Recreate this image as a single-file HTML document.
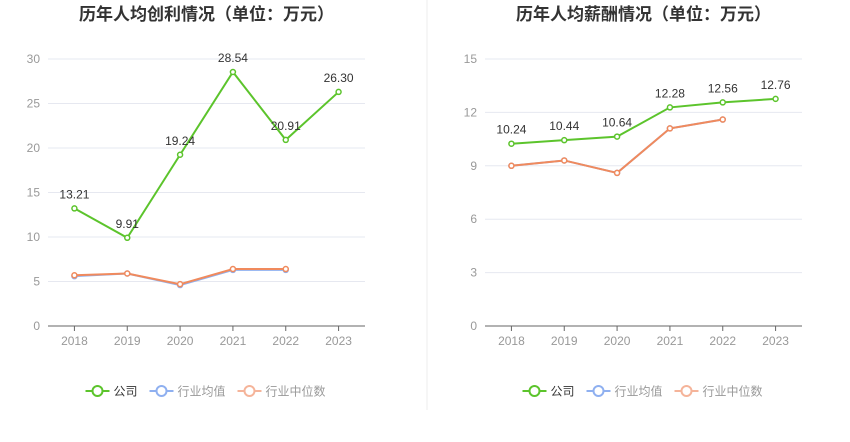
<!DOCTYPE html>
<html><head><meta charset="utf-8"><style>
body{margin:0;background:#fff;width:850px;height:437px;overflow:hidden;font-family:"Liberation Sans","Noto Sans CJK SC",sans-serif}
</style></head><body>
<svg id="s" width="850" height="437" font-family="Liberation Sans, Noto Sans CJK SC, sans-serif"></svg>
<script>
const years=["2018","2019","2020","2021","2022","2023"];
const profitCompany=[13.21,9.91,19.24,28.54,20.91,26.30];
const profitAvg=[5.6,5.9,4.6,6.3,6.3];
const profitMedian=[5.7,5.9,4.7,6.4,6.4];
const salaryCompany=[10.24,10.44,10.64,12.28,12.56,12.76];
const salaryAvg=[9.0,9.3,8.6,11.1,11.6];
const salaryMedian=[9.0,9.3,8.6,11.1,11.6];
const profitTicks=[0,5,10,15,20,25,30];
const salaryTicks=[0,3,6,9,12,15];
const NS="http://www.w3.org/2000/svg";
const svg=document.getElementById('s');
function mk(t,a,p){const e=document.createElementNS(NS,t);for(const k in a)e.setAttribute(k,a[k]);(p||svg).appendChild(e);return e;}
const sep=mk('line',{x1:427,y1:0,x2:427,y2:410,stroke:'#eee'});


function chart(name,title,x0,x1,max,ticks,comp,avg,med){
 const g=mk('g',{});
 
 
 const y0=326,yT=59,step=(x1-x0)/years.length;
 const X=i=>x0+step*(i+0.5), Y=v=>y0-(v/max)*(y0-yT);
 const t=mk('text',{x:(x0+x1)/2,y:20,'text-anchor':'middle','font-size':17,'font-weight':'bold',fill:'#333'},g);t.textContent=title;
 
 
 ticks.forEach(v=>{
  if(v>0){const l=mk('line',{x1:x0,x2:x1,y1:Y(v),y2:Y(v),stroke:'#e6e8f0'},g);
  
  }
  const tx=mk('text',{x:x0-8,y:Y(v)+4,'text-anchor':'end','font-size':12,fill:'#999'},g);tx.textContent=v;
  
  
 });
 const ax=mk('line',{x1:x0,x2:x1,y1:y0,y2:y0,stroke:'#666'},g);
 
 
 years.forEach((yy,i)=>{
  const tk=mk('line',{x1:X(i),x2:X(i),y1:y0,y2:y0+5,stroke:'#666'},g);
  
  
  const tx=mk('text',{x:X(i),y:y0+19,'text-anchor':'middle','font-size':12,fill:'#999'},g);tx.textContent=yy;
  
  
 });
 function series(arr,col,nm,labels){
  const p=mk('polyline',{points:arr.map((v,i)=>X(i)+','+Y(v)).join(' '),fill:'none',stroke:col,'stroke-width':2},g);
  
  
  arr.forEach((v,i)=>{
   const c=mk('circle',{cx:X(i),cy:Y(v),r:2.5,fill:'#fff',stroke:col,'stroke-width':1.5},g);
   
   
   if(labels){const tx=mk('text',{x:X(i),y:Y(v)-10,'text-anchor':'middle','font-size':12,fill:'#333'},g);tx.textContent=v.toFixed(2);
   
   }
  });
 }
 series(avg,'#8fb0f0','industry-average',false);
 series(med,'#f08a5d','industry-median',false);
 series(comp,'#5cc42c','company',true);
 const lg=[['公司','#5cc42c','#333'],['行业均值','#8fb0f0','#999'],['行业中位数','#f5b49a','#999']];
 let lx=(x0+x1)/2-121;
 lg.forEach(([txt,col,tc],k)=>{
  const gg=mk('g',{},g);
  
  
  mk('line',{x1:lx,x2:lx+24,y1:391,y2:391,stroke:col,'stroke-width':2},gg);
  mk('circle',{cx:lx+12,cy:391,r:5,fill:'#fff',stroke:col,'stroke-width':2},gg);
  const tx=mk('text',{x:lx+28,y:395.5,'font-size':12,fill:tc},gg);tx.textContent=txt;
  lx+=28+txt.length*12+12;
 });
}
chart('profit-chart','历年人均创利情况（单位：万元）',48,365,30,profitTicks,profitCompany,profitAvg,profitMedian);
chart('salary-chart','历年人均薪酬情况（单位：万元）',485,802,15,salaryTicks,salaryCompany,salaryAvg,salaryMedian);
</script>
</body></html>
